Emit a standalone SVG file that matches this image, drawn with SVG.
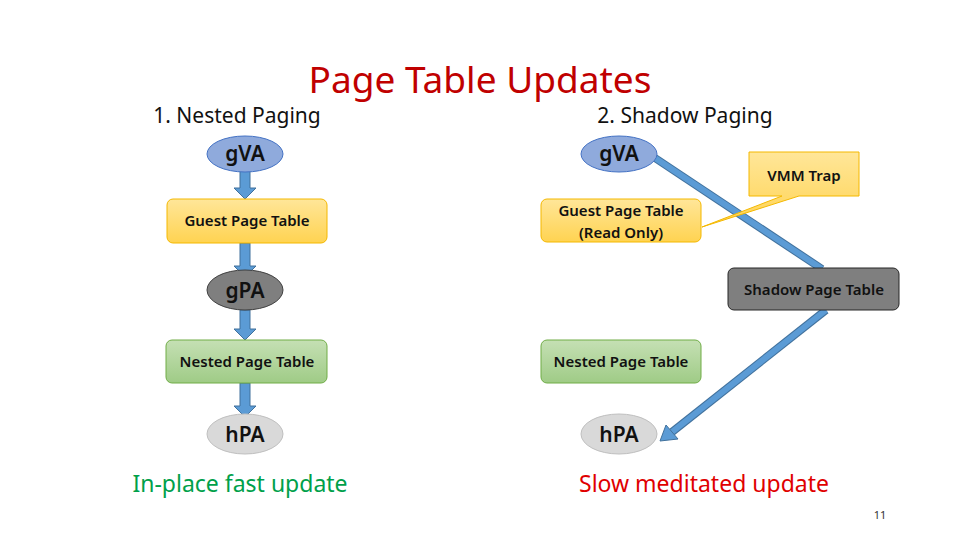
<svg xmlns="http://www.w3.org/2000/svg" width="960" height="540" viewBox="0 0 960 540">
<style>
text{font-family:"Noto Sans","Liberation Sans",sans-serif;text-anchor:middle}
.b{font-weight:600;font-size:15px;fill:#111}
.e{font-size:21px;font-weight:600;fill:#111}
.h{font-size:21px;fill:#111}
.ar{fill:#5b9bd5;stroke:#41719c;stroke-width:1}
</style>
<defs>
<linearGradient id="gy" x1="0" y1="0" x2="0" y2="1"><stop offset="0" stop-color="#ffe699"/><stop offset="1" stop-color="#ffd351"/></linearGradient>
<linearGradient id="gg" x1="0" y1="0" x2="0" y2="1"><stop offset="0" stop-color="#c5e0b4"/><stop offset="1" stop-color="#9fcb86"/></linearGradient>
</defs>
<rect width="960" height="540" fill="#fff"/>
<text x="480" y="93" style="font-size:37px;fill:#c00000">Page Table Updates</text>
<text x="237" y="123" class="h">1. Nested Paging</text>
<text x="685" y="123" class="h">2. Shadow Paging</text>
<g id="connectors">
<path class="ar" d="M240 171h10v17h6l-11 11-11-11h6z"/>
<path class="ar" d="M240 243h10v23h6l-11 11-11-11h6z"/>
<path class="ar" d="M240 310h10v19h6l-11 11-11-11h6z"/>
<path class="ar" d="M240 383h10v23h6l-11 11-11-11h6z"/>
<line x1="655" y1="158" x2="822" y2="269" stroke="#41719c" stroke-width="8"/>
<line x1="655" y1="158" x2="822" y2="269" stroke="#5b9bd5" stroke-width="6"/>
<line x1="826" y1="310" x2="672" y2="432" stroke="#41719c" stroke-width="8"/>
<line x1="826" y1="310" x2="672" y2="432" stroke="#5b9bd5" stroke-width="6"/>
<path d="M660 441l6-16 12 14z" fill="#5b9bd5" stroke="#41719c"/>
</g>
<g id="l-gva"><ellipse cx="245" cy="154" rx="38" ry="18" fill="#8faadc" stroke="#4472c4"/><text x="245" y="161" class="e">gVA</text></g>
<g id="l-gpt"><rect x="167" y="199" width="160" height="44" rx="6" fill="url(#gy)" stroke="#f4b800"/><text x="247" y="226" class="b">Guest Page Table</text></g>
<g id="l-gpa"><ellipse cx="245" cy="290" rx="38" ry="20" fill="#7f7f7f" stroke="#404040"/><text x="245" y="298" class="e">gPA</text></g>
<g id="l-npt"><rect x="166" y="340" width="161" height="43" rx="6" fill="url(#gg)" stroke="#70ad47"/><text x="247" y="367" class="b">Nested Page Table</text></g>
<g id="l-hpa"><ellipse cx="245" cy="434" rx="38" ry="20" fill="#d9d9d9" stroke="#bfbfbf"/><text x="245" y="442" class="e">hPA</text></g>
<text x="240" y="492" style="font-size:23px;fill:#00a04a">In-place fast update</text>
<g id="r-gva"><ellipse cx="619" cy="154" rx="38" ry="18" fill="#8faadc" stroke="#4472c4"/><text x="619" y="161" class="e">gVA</text></g>
<g id="r-gpt"><rect x="541" y="199" width="160" height="43" rx="6" fill="url(#gy)" stroke="#f4b800"/><text x="621" y="216" class="b">Guest Page Table</text><text x="621" y="238" class="b">(Read Only)</text></g>
<g id="vmm"><path d="M749 152h110v44h-60l-97 31 80-31h-33z" fill="url(#gy)" stroke="#f4b800"/><text x="804" y="181" class="b">VMM Trap</text></g>
<g id="spt"><rect x="728" y="268" width="171" height="42" rx="6" fill="#7f7f7f" stroke="#262626"/><text x="814" y="295" class="b">Shadow Page Table</text></g>
<g id="r-npt"><rect x="541" y="340" width="160" height="43" rx="6" fill="url(#gg)" stroke="#70ad47"/><text x="621" y="367" class="b">Nested Page Table</text></g>
<g id="r-hpa"><ellipse cx="619" cy="434" rx="38" ry="20" fill="#d9d9d9" stroke="#bfbfbf"/><text x="619" y="442" class="e">hPA</text></g>
<text x="704" y="492" style="font-size:23px;fill:#e00000">Slow meditated update</text>
<text x="880" y="519" style="font-size:11px;fill:#333">11</text>
</svg>
